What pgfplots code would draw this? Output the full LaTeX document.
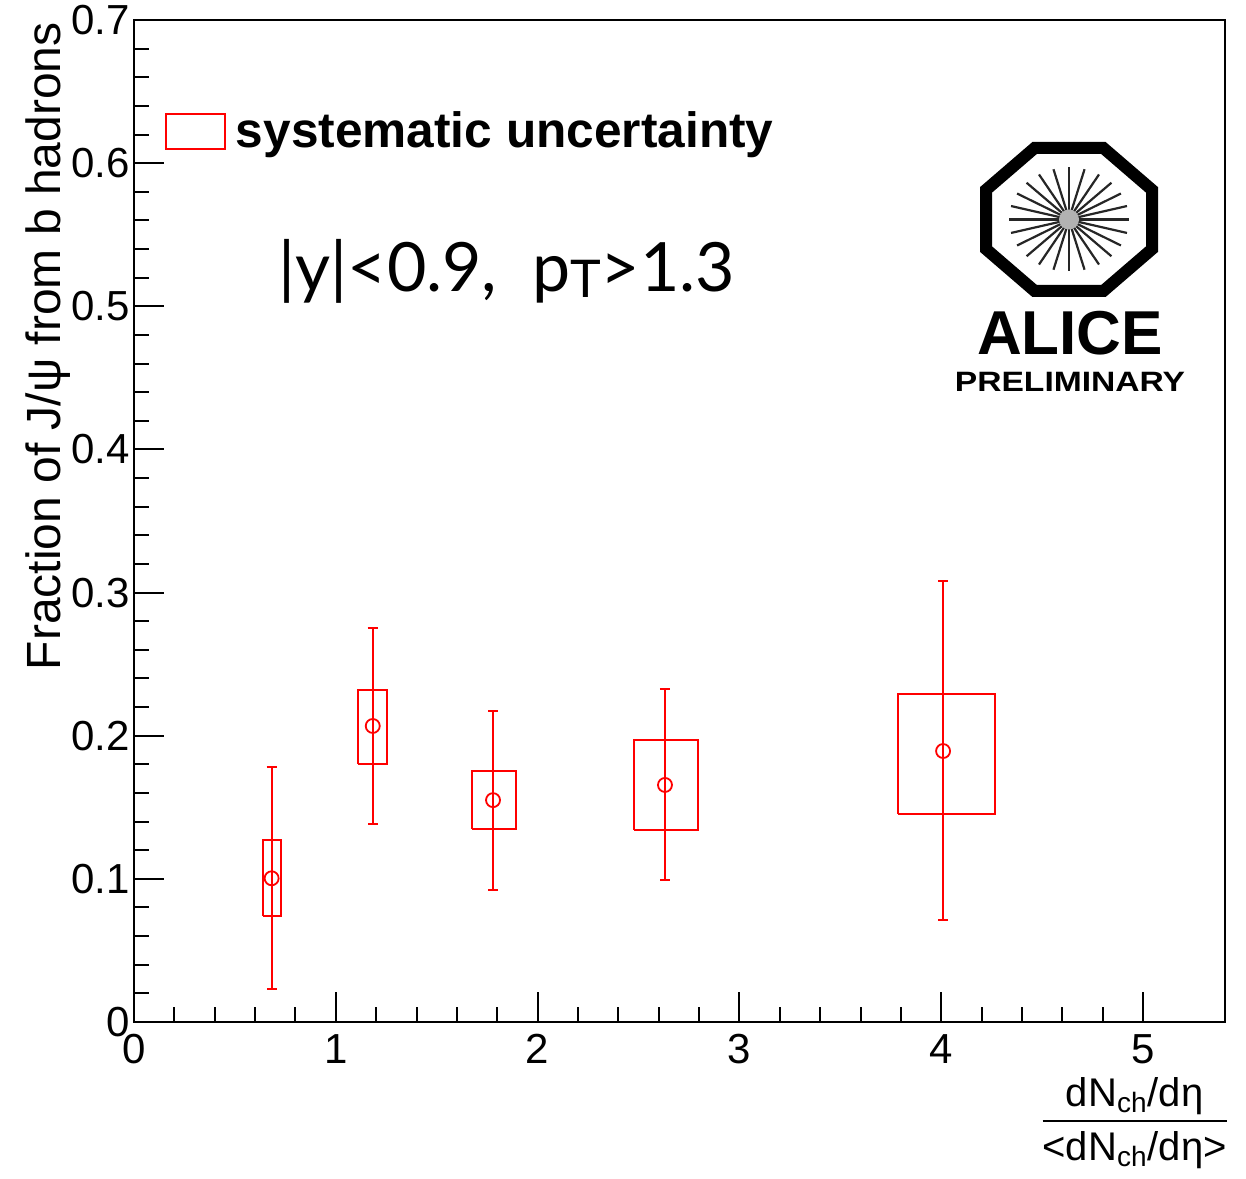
\documentclass[border=0pt]{standalone}
\usepackage{fontspec}
\setmainfont{Liberation Sans}
\newfontfamily\gill{Lato}
\usepackage{pgfplots}
\pgfplotsset{compat=1.18}
\pgfplotstableread{
x y ep em
0.682 0.1004 0.0780 0.0776
1.183 0.2068 0.0687 0.0685
1.779 0.1550 0.0623 0.0628
2.631 0.1656 0.0670 0.0664
4.009 0.1893 0.1187 0.1180
}\stat
\pgfplotstableread{
x y
0.641 0.0743
0.727 0.0743
0.727 0.1271
0.641 0.1271
0.641 0.0743
nan nan
1.112 0.1800
1.256 0.1800
1.256 0.2319
1.112 0.2319
1.112 0.1800
nan nan
1.675 0.1348
1.893 0.1348
1.893 0.1754
1.675 0.1754
1.675 0.1348
nan nan
2.478 0.1340
2.795 0.1340
2.795 0.1970
2.478 0.1970
2.478 0.1340
nan nan
3.786 0.1453
4.267 0.1453
4.267 0.2290
3.786 0.2290
3.786 0.1453
}\syst
\begin{document}
\begin{tikzpicture}
\path[use as bounding box] (-67pt,-78pt) rectangle (556pt,511pt);
\begin{axis}[
  at={(0pt,0pt)}, anchor=south west,
  scale only axis, width=545.5pt, height=501pt,
  xmin=0, xmax=5.406, ymin=0, ymax=0.7,
  axis line style={line width=1pt},
  tick align=inside, tick pos=left,
  xtick={0,1,2,3,4,5}, minor x tick num=4,
  ytick={0,0.1,0.2,0.3,0.4,0.5,0.6,0.7}, minor y tick num=4,
  major tick length=15pt, minor tick length=7.5pt,
  every tick/.style={black, line width=1pt},
  tick label style={font=\fontsize{21}{25}\selectfont, inner sep=0.5pt},
  xticklabel style={yshift=-5.5pt},
  yticklabel style={xshift=-1.5pt, /pgf/number format/fixed, /pgf/number format/precision=1},
  /pgf/number format/assume math mode=true,
  ylabel={Fraction of J/ψ from b hadrons},
  ylabel style={at={(axis description cs:-0.0678,0.998)}, anchor=base east, inner sep=0pt, font=\fontsize{24}{28}\selectfont},
  xlabel={\setlength\arrayrulewidth{1pt}\begin{tabular}{@{}c@{}}dN\textsubscript{ch}/dη\\[0pt]\hline\rule{0pt}{19pt}<dN\textsubscript{ch}/dη>\end{tabular}},
  xlabel style={at={(axis description cs:1,0)}, anchor=north east, xshift=1pt, yshift=-26pt, inner sep=0pt, font=\fontsize{20}{23}\selectfont},
  legend style={at={(rel axis cs:0.0284,0.889)}, anchor=west, draw=none, fill=none, inner sep=0pt,
    font=\bfseries\fontsize{24.8}{28}\selectfont},
  legend cell align=left,
  legend image code/.code={\draw[red, line width=0.8pt] (0pt,-8.75pt) rectangle (29.5pt,8.75pt);},
  legend style={nodes={inner xsep=0pt}, column sep=0pt},
]
\addplot[red, line width=1pt, no marks, unbounded coords=jump] table[x=x, y=y] {\syst};
\addlegendentry{\hspace{5pt}systematic uncertainty}
\addplot[red, line width=1pt, only marks, mark=o, mark size=3.5pt, mark options={fill=white, solid, line width=0.9pt},
  error bars/.cd, y dir=both, y explicit,
  error bar style={red, line width=1pt},
  error mark options={rotate=90, red, line width=1pt, mark size=2.5pt}]
  table[x=x, y=y, y error plus=ep, y error minus=em] {\stat};
\end{axis}
\node[anchor=base west, inner sep=0pt, font=\gill\fontsize{34}{38}\selectfont] at (72pt,365pt)
  {|y|<0.9,\ \ p{\fontsize{26}{30}\selectfont\raisebox{-0.1em}{T}}>1.3};
% ALICE logo (decoration)
\begin{scope}[shift={(467.5pt,401.25pt)}]
  \foreach \a in {0,15,...,345} {
    \draw[line width=1.1pt, black!85] (\a:3pt) -- ({30pt*cos(\a)},{26pt*sin(\a)});
  }
  \fill[gray!60] (0,0) circle (5pt);
  \draw[line width=6pt, xscale=41.5, yscale=35.75]
    (22.5:1.0824pt) -- (67.5:1.0824pt) -- (112.5:1.0824pt) -- (157.5:1.0824pt) --
    (202.5:1.0824pt) -- (247.5:1.0824pt) -- (292.5:1.0824pt) -- (337.5:1.0824pt) -- cycle;
\end{scope}
\node[font=\bfseries\fontsize{31}{31}\selectfont, inner sep=0pt] at (468pt,344.5pt) {ALICE};
\node[font=\bfseries\fontsize{14}{14}\selectfont, inner sep=0pt, xscale=1.2] at (468pt,320pt) {PRELIMINARY};
\end{tikzpicture}
\end{document}
